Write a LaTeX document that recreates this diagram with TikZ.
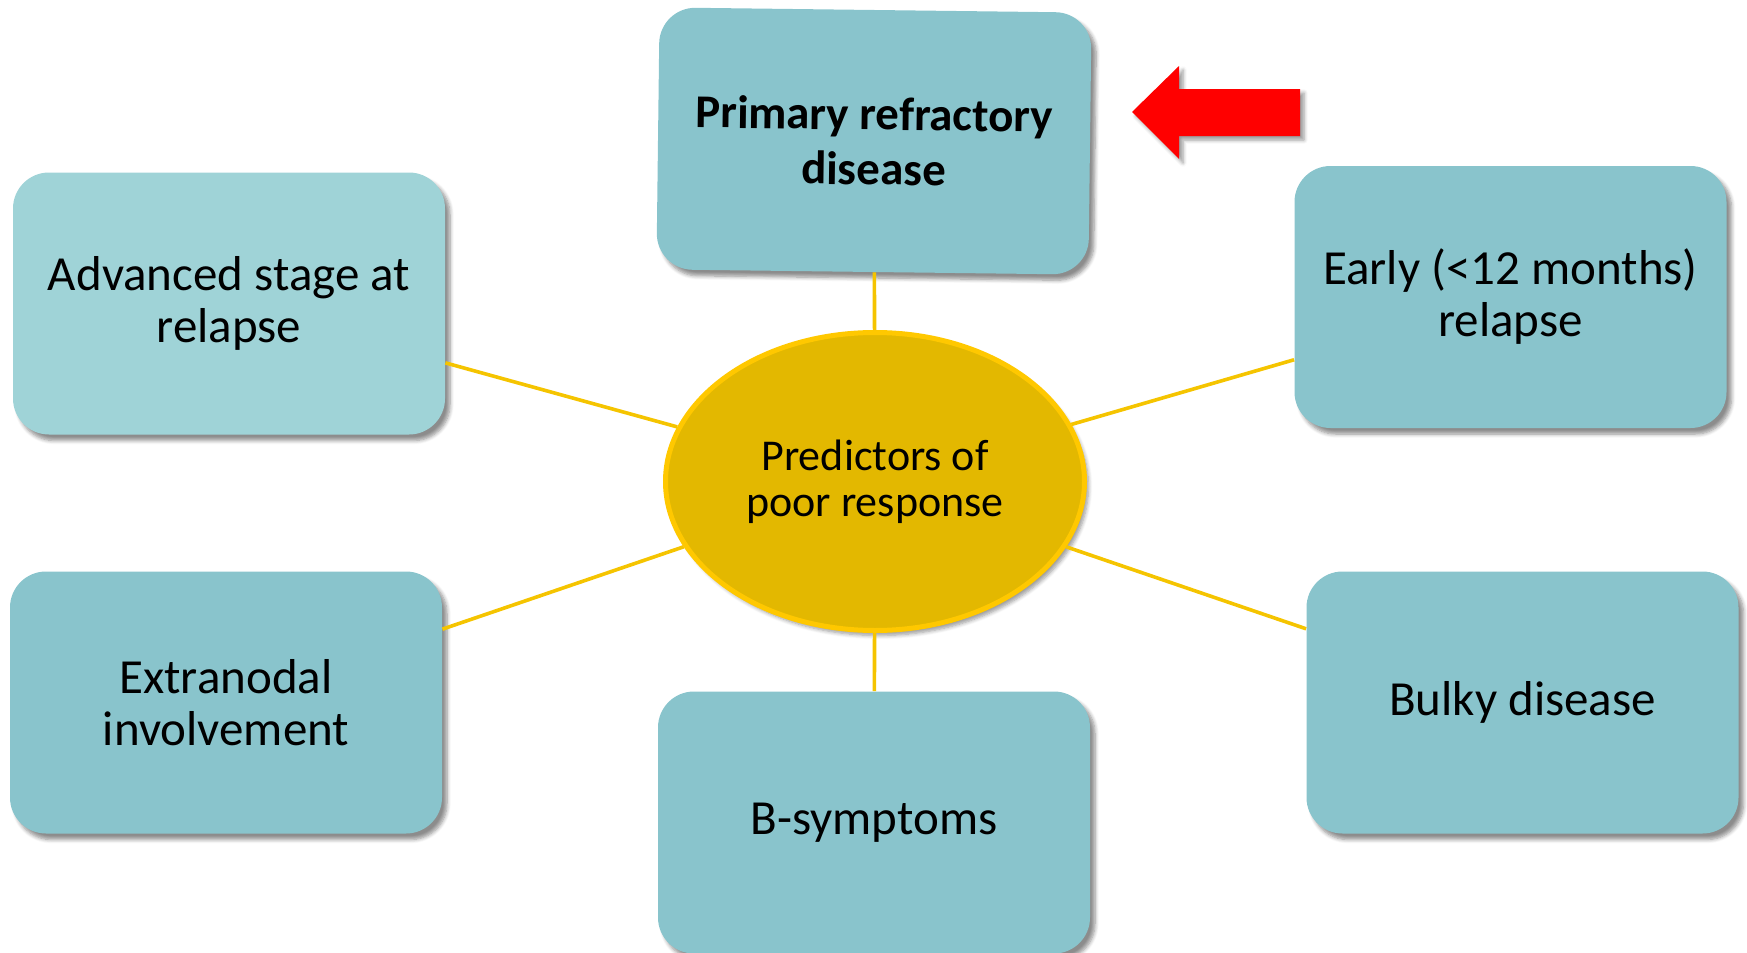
\documentclass[tikz,border=0pt]{standalone}
\usepackage{fontspec}
\setmainfont{Carlito}
\usetikzlibrary{shapes.geometric, shadows.blur}

\definecolor{boxteal}{HTML}{89C4CC}
\definecolor{boxlight}{HTML}{9FD3D7}
\definecolor{hubfill}{HTML}{E3B800}
\definecolor{hubline}{HTML}{FFC800}
\definecolor{spoke}{HTML}{F5C400}

\begin{document}
\begin{tikzpicture}[x=0.5pt, y=-0.5pt,
    factor/.style={rectangle, rounded corners=18pt, fill=boxteal, inner sep=0pt,
        minimum width=216pt, minimum height=131pt, align=center,
        font=\fontsize{24.5}{26}\selectfont,
        blur shadow={shadow xshift=2.5pt, shadow yshift=-3pt, shadow blur steps=6, shadow opacity=45}},
    hub/.style={ellipse, fill=hubfill, draw=hubline, line width=2.5pt, inner sep=0pt,
        minimum width=209.5pt, minimum height=149pt, align=center,
        font=\fontsize{22}{23}\selectfont,
        blur shadow={shadow xshift=2pt, shadow yshift=-2.5pt, shadow blur steps=6, shadow opacity=40}},
    link/.style={draw=spoke, line width=1.8pt}]
    \useasboundingbox (0,0) rectangle (1747,953);

    % 1. Kasten rund um das Zentrum
    \node[factor, rotate=-0.7, font=\fontsize{23.5}{27.5}\selectfont\bfseries] (prim) at (874,141) {Primary refractory\\disease};
    \node[factor, fill=boxlight] (adv) at (229,303.5) {Advanced stage at\\relapse};
    \node[factor] (early) at (1510.5,297) {Early (<12 months)\\relapse};
    \node[factor] (extra) at (226,702.5) {Extranodal\\involvement};
    \node[factor] (bulky) at (1522.5,702.5) {Bulky disease};
    \node[factor] (bsym) at (874,822.5) {B-symptoms};

    % 2. Zentrum
    \node[hub] (pred) at (875,481.5) {Predictors of\\poor response};

    % 3. Verbindungslinien
    \draw[link] (pred) -- (prim);
    \draw[link] (pred) -- (adv);
    \draw[link] (pred) -- (early);
    \draw[link] (pred) -- (extra);
    \draw[link] (pred) -- (bulky);
    \draw[link] (pred) -- (bsym);

    % 4. roter Pfeil
    \fill[red, blur shadow={shadow xshift=2pt, shadow yshift=-2pt, shadow blur steps=5, shadow opacity=40}]
        (1132,112) -- (1179,66) -- (1179,89) -- (1300,89) -- (1300,136)
        -- (1179,136) -- (1179,159) -- cycle;
\end{tikzpicture}
\end{document}
